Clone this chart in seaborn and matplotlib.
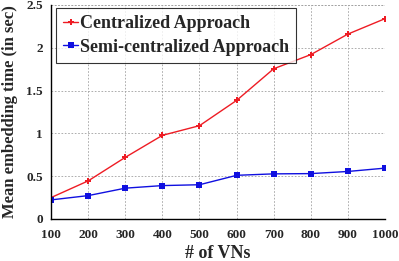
import numpy as np
import pandas as pd
import matplotlib
matplotlib.use("Agg")
import matplotlib.pyplot as plt
import seaborn as sns

# values
num_vns = [100, 200, 300, 400, 500, 600, 700, 800, 900, 1000]
centralized = [0.25, 0.445, 0.72, 0.977, 1.09, 1.385, 1.755, 1.92, 2.16, 2.34]
semi_centralized = [0.223, 0.273, 0.36, 0.39, 0.40, 0.51, 0.527, 0.53, 0.555, 0.594]
series_names = ["Centralized Approach", "Semi-centralized Approach"]

df = pd.DataFrame({
    "vns": num_vns * 2,
    "time": centralized + semi_centralized,
    "approach": [series_names[0]] * len(num_vns) + [series_names[1]] * len(num_vns),
})

sns.set_style("white")
plt.rcParams['font.family'] = ['Liberation Serif', 'DejaVu Serif']
plt.rcParams['font.weight'] = 'bold'

fig, ax = plt.subplots(figsize=(3.99, 2.61), dpi=100)
fig.subplots_adjust(left=0.128, right=0.965, bottom=0.161, top=0.981)

sns.lineplot(data=df, x="vns", y="time", hue="approach", style="approach",
             palette={series_names[0]: "#ee1c24", series_names[1]: "#1010e0"},
             markers={series_names[0]: "P", series_names[1]: "s"},
             dashes=False, markersize=4.5, linewidth=1.0, markeredgewidth=0,
             ax=ax)

ax.set_xlim(100, 1000)
ax.set_ylim(0, 2.5)
ax.set_xticks(num_vns)
ax.set_yticks([0, 0.5, 1, 1.5, 2, 2.5])
ax.set_yticklabels(["0", "0.5", "1", "1.5", "2", "2.5"])
ax.tick_params(axis="y", labelsize=9.5, length=0, pad=6)
ax.tick_params(axis="x", labelsize=9.5, length=0, pad=7)
for lbl in ax.get_xticklabels() + ax.get_yticklabels():
    lbl.set_fontweight("bold")

ax.grid(True, linestyle=(0, (2, 2)), color="#a0a0a0", linewidth=0.6)
for side in ["top", "right"]:
    ax.spines[side].set_visible(False)
for side in ["left", "bottom"]:
    ax.spines[side].set_color("black")
    ax.spines[side].set_linewidth(1.0)
# dashed frame on top/right like the grid
ax.axhline(2.5, linestyle=(0, (2, 2)), color="#a0a0a0", linewidth=0.6)
ax.axvline(1000, linestyle=(0, (2, 2)), color="#a0a0a0", linewidth=0.6)

ax.set_xlabel("# of VNs", fontsize=13, fontweight="bold", labelpad=3)
ax.set_ylabel("Mean embedding time (in sec)", fontsize=12, fontweight="bold", labelpad=6)

leg = ax.legend(loc="upper left", bbox_to_anchor=(0.015, 0.985), frameon=True,
                fancybox=False, edgecolor="black", fontsize=13,
                handlelength=0.8, handletextpad=0.1, borderpad=0.4,
                labelspacing=0.35, borderaxespad=0)
leg.get_frame().set_linewidth(0.8)
for t in leg.get_texts():
    t.set_fontweight("bold")

fig.savefig("out.png", dpi=100, facecolor="white")
